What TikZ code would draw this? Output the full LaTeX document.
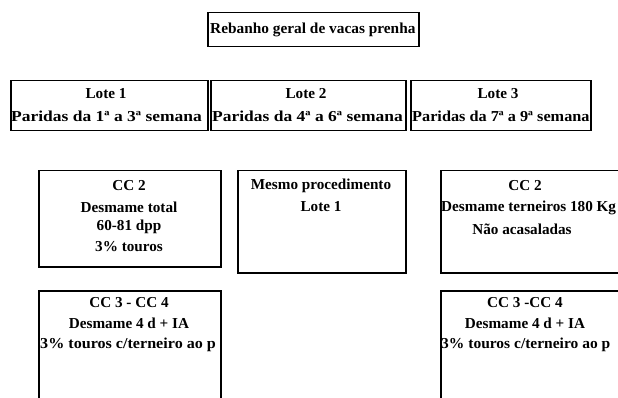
\documentclass[tikz,border=0pt]{standalone}
\usepackage{fontspec}
\usepackage{graphicx}
\setmainfont{Liberation Serif}
\newcommand{\widen}[2]{\scalebox{#1}[1]{#2}}
\begin{document}
\begin{tikzpicture}[x=1pt,y=-1pt,
  panel/.style={draw, line width=1.5pt, inner sep=0pt, anchor=north west},
  txt/.style={font=\bfseries\fontsize{15.2}{17}\selectfont, inner sep=0pt},
  txtl/.style={txt, anchor=west}]
\useasboundingbox (0,0) rectangle (618,398);
\fill[white] (0,0) rectangle (618,398);

% boxes
\node[panel, minimum width=211pt, minimum height=34pt] (herd) at (207,12) {};
\node[panel, minimum width=197pt, minimum height=50pt] (lote1) at (10,80) {};
\node[panel, minimum width=195pt, minimum height=50pt] (lote2) at (210,80) {};
\node[panel, minimum width=180pt, minimum height=50pt] (lote3) at (410,80) {};
\node[panel, minimum width=182pt, minimum height=96pt] (cca) at (38,170) {};
\node[panel, minimum width=168pt, minimum height=102pt] (ccb) at (237,170) {};
\node[panel, minimum width=190pt, minimum height=102pt] (ccc) at (440,170) {};
\node[panel, minimum width=182pt, minimum height=120pt] (cda) at (38,290) {};
\node[panel, minimum width=190pt, minimum height=120pt] (cdc) at (440,290) {};

% texts
\node[txtl] (herdt) at (210,30) {\widen{1.01}{Rebanho geral de vacas prenha}};
\node[txt] (l1a) at (106,94) {Lote 1};
\node[txtl] (l1b) at (11,116) {\widen{1.15}{Paridas da 1ª a 3ª semana}};
\node[txt] (l2a) at (306,94) {Lote 2};
\node[txtl] (l2b) at (212,116) {\widen{1.15}{Paridas da 4ª a 6ª semana}};
\node[txt] (l3a) at (498,94) {Lote 3};
\node[txtl] (l3b) at (412,116) {\widen{1.07}{Paridas da 7ª a 9ª semana}};
\node[txt] (ca1) at (129,186) {CC 2};
\node[txt] (ca2) at (129,207) {Desmame total};
\node[txt] (ca3) at (129,227) {60-81 dpp};
\node[txt] (ca4) at (129,247) {3\% touros};
\node[txt] (cb1) at (321,186) {Mesmo procedimento};
\node[txt] (cb2) at (321,207) {Lote 1};
\node[txt] (cc1) at (525,186) {CC 2};
\node[txtl] (cc2) at (441,208) {Desmame terneiros 180 Kg};
\node[txt] (cc3) at (522,229) {Não acasaladas};
\node[txt] (da1) at (129,303) {CC 3 - CC 4};
\node[txt] (da2) at (129,323) {Desmame 4 d + IA};
\node[txtl] (da3) at (40,345) {\widen{1.06}{3\% touros c/terneiro ao p}};
\node[txt] (dc1) at (525,303) {CC 3 -CC 4};
\node[txt] (dc2) at (525,323) {Desmame 4 d + IA};
\node[txtl] (dc3) at (441,345) {\widen{1.02}{3\% touros c/terneiro ao p}};
\end{tikzpicture}
\end{document}
